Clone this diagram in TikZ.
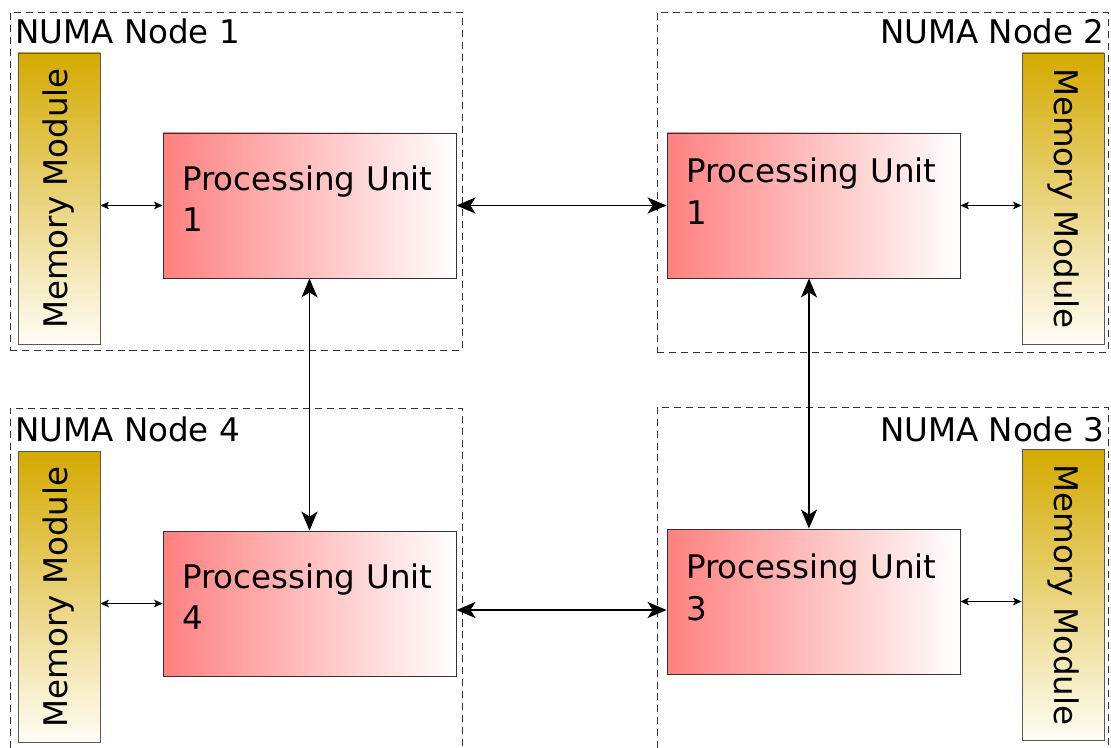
\documentclass[tikz,border=0pt]{standalone}
\usepackage{fontspec}
\setmainfont{DejaVu Sans}
\usetikzlibrary{arrows.meta,calc}

\definecolor{memgold}{RGB}{212,170,0}
\definecolor{memlight}{RGB}{255,253,245}
\definecolor{pured}{RGB}{255,128,128}

\begin{document}
\begin{tikzpicture}[
    font=\fontsize{18.5}{23.5}\selectfont,
    numabox/.style={draw=black!80,dash pattern=on 4pt off 2.8pt,line width=0.5pt,minimum width=9.04cm,inner sep=0pt},
    numatitle/.style={inner sep=0pt},
    memory/.style={draw=black!65,line width=0.5pt,top color=memgold,bottom color=memlight,minimum width=1.64cm,minimum height=5.82cm,inner sep=0pt},
    memtext/.style={inner sep=0pt},
    pu/.style={draw=black!80,line width=0.5pt,left color=pured,right color=white,minimum width=5.86cm,minimum height=2.9cm,text width=5.1cm,inner xsep=0.38cm,align=left,text depth=#1},
    pu/.default=1.1cm,
    bus/.style={{Stealth[length=0.38cm,width=0.32cm,inset=0.1cm]}-{Stealth[length=0.38cm,width=0.32cm,inset=0.1cm]},line width=1.1pt},
    memlink/.style={{Stealth[length=0.17cm,width=0.15cm,inset=0.04cm]}-{Stealth[length=0.17cm,width=0.15cm,inset=0.04cm]},line width=0.5pt},
]
\useasboundingbox (0,0) rectangle (22.22,14.94);

% ================= dashed NUMA regions (lower ones run off the page) =================
\node[numabox,minimum height=6.76cm] (box1) at (4.72,11.32) {};
\node[numabox,minimum height=6.80cm,minimum width=9.02cm] (box2) at (17.65,11.30) {};
\node[numabox,minimum height=7.28cm] (box4) at (4.72,3.14) {};
\node[numabox,minimum height=7.30cm,minimum width=9.02cm] (box3) at (17.65,3.15) {};

\node[numatitle,anchor=north west] (title1) at (0.30,14.58) {NUMA Node 1};
\node[numatitle,anchor=north east] (title2) at (22.10,14.58) {NUMA Node 2};
\node[numatitle,anchor=north west] (title4) at (0.30,6.62) {NUMA Node 4};
\node[numatitle,anchor=north east] (title3) at (22.10,6.62) {NUMA Node 3};

% ================= memory modules =================
\node[memory] (mem1) at (1.18,10.97) {};
\node[memory] (mem2) at (21.26,10.97) {};
\node[memory] (mem4) at (1.18,3.00) {};
\node[memory] (mem3) at (21.26,3.04) {};
\node[memtext,rotate=90] (mem1txt) at (mem1) {Memory Module};
\node[memtext,rotate=-90] (mem2txt) at (mem2) {Memory Module};
\node[memtext,rotate=90] (mem4txt) at (mem4) {Memory Module};
\node[memtext,rotate=-90] (mem3txt) at (mem3) {Memory Module};

% ================= processing units =================
\node[pu] (pu1) at (6.19,10.83) {Processing Unit\\1};
\node[pu=1.4cm] (pu2) at (16.27,10.83) {Processing Unit\\1};
\node[pu] (pu4) at (6.19,2.87) {Processing Unit\\4};
\node[pu=1.4cm] (pu3) at (16.27,2.91) {Processing Unit\\3};

% memory <-> unit
\draw[memlink] (mem1.east |- pu1.west) -- (pu1.west);
\draw[memlink] (pu2.east) -- (mem2.west |- pu2.east);
\draw[memlink] (mem4.east |- pu4.west) -- (pu4.west);
\draw[memlink] (pu3.east) -- (mem3.west |- pu3.east);

% unit <-> unit interconnect
\draw[bus] (pu1.east) -- (pu2.west);
\draw[bus] ($(pu4.east)+(0,-0.13)$) -- ($(pu4.east -| pu3.west)+(0,-0.13)$);
\draw[bus] (pu1.south) -- (pu4.north);
\draw[bus] ($(pu2.south)+(-0.09,0)$) -- ($(pu3.north)+(-0.09,0)$);

\end{tikzpicture}
\end{document}
